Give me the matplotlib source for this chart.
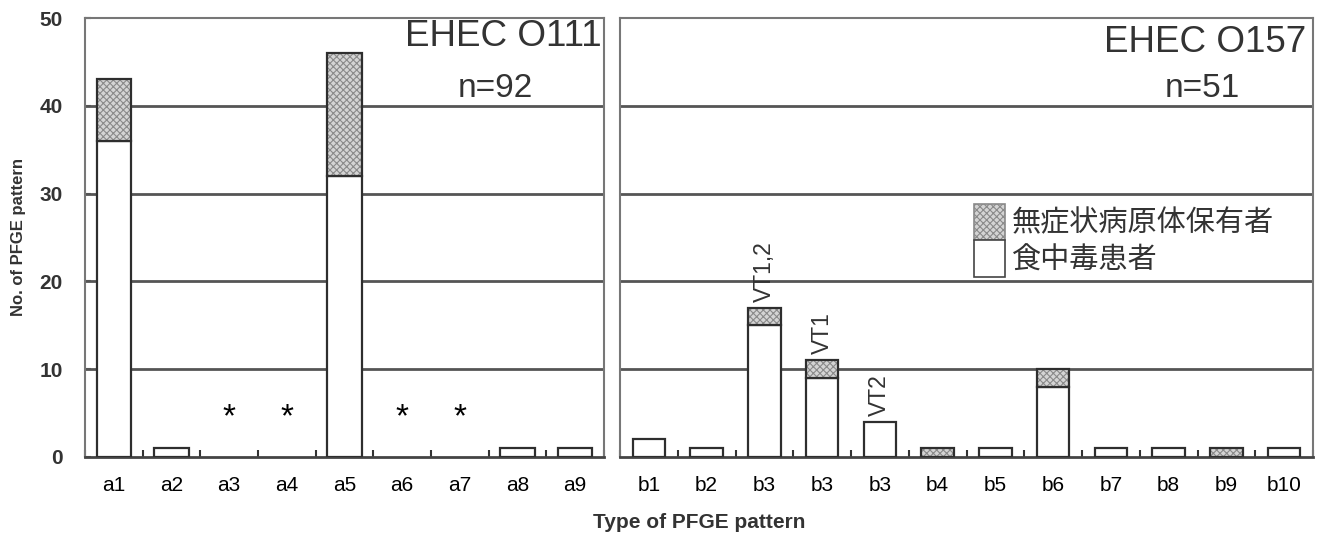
import matplotlib
matplotlib.use("Agg")
import matplotlib.pyplot as plt
from matplotlib.patches import Patch
import numpy as np

plt.rcParams['font.family'] = ['Liberation Sans', 'Noto Sans CJK JP', 'DejaVu Sans']

# ---- data ----
left_cats = ['a1', 'a2', 'a3', 'a4', 'a5', 'a6', 'a7', 'a8', 'a9']
left_patient = [36, 1, 0, 0, 32, 0, 0, 1, 1]
left_carrier = [7, 0, 0, 0, 14, 0, 0, 0, 0]
left_star = [False, False, True, True, False, True, True, False, False]

right_cats = ['b1', 'b2', 'b3', 'b3', 'b3', 'b4', 'b5', 'b6', 'b7', 'b8', 'b9', 'b10']
right_patient = [2, 1, 15, 9, 4, 0, 1, 8, 1, 1, 0, 1]
right_carrier = [0, 0, 2, 2, 0, 1, 0, 2, 0, 0, 1, 0]
right_notes = ['', '', 'VT1,2', 'VT1', 'VT2', '', '', '', '', '', '', '']

legend_labels = ['無症状病原体保有者', '食中毒患者']
yticks = [0, 10, 20, 30, 40, 50]

W, H = 1320, 537
fig = plt.figure(figsize=(W / 100, H / 100), dpi=100)
bottom = 1 - 457 / H
top = 1 - 18 / H
axL = fig.add_axes([85 / W, bottom, (604 - 85) / W, top - bottom])
axR = fig.add_axes([620 / W, bottom, (1313 - 620) / W, top - bottom])

hatch_face = '#d4d4d4'
hatch_col = '#8a8a8a'
edge = '#2e2e2e'
plt.rcParams['hatch.linewidth'] = 0.8


def draw(ax, cats, patient, carrier, width):
    x = np.arange(len(cats))
    p = np.array(patient, float)
    c = np.array(carrier, float)
    has_p = p > 0
    has_c = c > 0
    # patient (white)
    ax.bar(x[has_p], p[has_p], width, color='white', edgecolor=edge,
           linewidth=1.6, zorder=3)
    # carrier hatched fill
    ax.bar(x[has_c], c[has_c], width, bottom=p[has_c], color=hatch_face,
           edgecolor=hatch_col, hatch='xxxxx', linewidth=0, zorder=3)
    ax.bar(x[has_c], c[has_c], width, bottom=p[has_c], facecolor='none',
           edgecolor=edge, linewidth=1.6, zorder=4)
    ax.set_xlim(-0.5, len(cats) - 0.5)
    ax.set_ylim(0, 50)
    ax.set_xticks(x)
    ax.set_xticklabels(cats, fontsize=15)
    ax.set_xticks(np.arange(len(cats) + 1) - 0.5, minor=True)
    ax.tick_params(axis='x', which='major', length=0, pad=14)
    ax.tick_params(axis='x', which='minor', length=5, direction='in',
                   width=1.5, color='#333333')
    ax.set_yticks(yticks)
    for yv in yticks[1:-1]:
        ax.axhline(yv, color='#555555', linewidth=2.0, zorder=1)
    for s in ax.spines.values():
        s.set_color('#777777')
        s.set_linewidth(1.5)
    ax.spines['bottom'].set_color('#444444')
    ax.spines['bottom'].set_linewidth(2)
    return x


xl = draw(axL, left_cats, left_patient, left_carrier, 0.6)
xr = draw(axR, right_cats, right_patient, right_carrier, 0.56)

axL.tick_params(axis='y', direction='in', length=4, width=1.5, color='#555555',
                labelsize=15, pad=16)
for lab in axL.get_yticklabels():
    lab.set_fontweight('bold')
    lab.set_color('#333333')
axR.tick_params(axis='y', length=0, labelleft=False)

axL.set_ylabel('No. of PFGE pattern', fontsize=12, fontweight='bold',
               color='#333333', labelpad=10)

for xi, st in zip(xl, left_star):
    if st:
        axL.text(xi, 4.5, '*', ha='center', va='center', fontsize=24,
                 color='black', zorder=5)

tot_r = np.array(right_patient) + np.array(right_carrier)
for xi, t, note in zip(xr, tot_r, right_notes):
    if note:
        axR.text(xi, t + 0.7, note, rotation=90, ha='center', va='bottom',
                 fontsize=16.5, color='#333333', zorder=5)

axL.text(0.995, 0.957, 'EHEC O111', transform=axL.transAxes, ha='right',
         va='center', fontsize=26.5, color='#333333')
axL.text(0.79, 0.84, 'n=92', transform=axL.transAxes, ha='center',
         va='center', fontsize=24, color='#333333')
axR.text(0.99, 0.945, 'EHEC O157', transform=axR.transAxes, ha='right',
         va='center', fontsize=26.5, color='#333333')
axR.text(0.84, 0.84, 'n=51', transform=axR.transAxes, ha='center',
         va='center', fontsize=24, color='#333333')

handles = [Patch(facecolor=hatch_face, edgecolor=hatch_col, hatch='xxxxx',
                 linewidth=1.2),
           Patch(facecolor='white', edgecolor='#444444', linewidth=1.2)]
leg = axR.legend(handles, legend_labels, loc='upper left',
                 bbox_to_anchor=(0.49, 0.61), frameon=False, fontsize=21,
                 handlelength=1.05, handleheight=1.55, labelspacing=0.0,
                 handletextpad=0.25, borderpad=0)
for t in leg.get_texts():
    t.set_color('#333333')

fig.text((85 + 1313) / 2 / W, 1 - 522 / H, 'Type of PFGE pattern',
         ha='center', va='center', fontsize=15, fontweight='bold',
         color='#333333')

fig.savefig('out.png', dpi=100, facecolor='white')
